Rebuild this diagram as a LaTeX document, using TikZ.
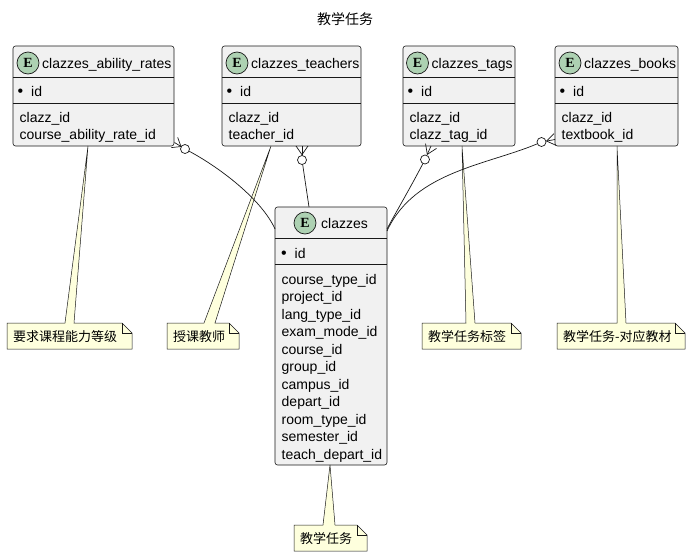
\documentclass[tikz,border=0pt]{standalone}
\usepackage{fontspec}
\setmainfont{Liberation Sans}
\setmonofont{Liberation Mono}
\newfontfamily\cjk{Noto Sans CJK SC}
\newfontfamily\badgefont{Liberation Serif}
\usetikzlibrary{calc}
\definecolor{boxfill}{HTML}{F1F1F1}
\definecolor{linec}{HTML}{181818}
\definecolor{badge}{HTML}{ADD1B2}
\definecolor{notefill}{HTML}{FEFFDD}
\tikzset{
  entbox/.style={draw=linec, fill=boxfill, rounded corners=2.5pt, line width=0.6pt, inner sep=0pt},
  sepline/.style={draw=linec, line width=0.9pt},
  ebadge/.style={circle, draw=linec, fill=badge, line width=0.7pt, minimum size=22pt, inner sep=0pt,
                 font=\badgefont\bfseries\fontsize{14}{14}\selectfont},
  etitle/.style={anchor=base west, inner sep=0pt, font=\fontsize{14}{16}\selectfont},
  efield/.style={anchor=base west, inner sep=0pt, font=\fontsize{14}{16}\selectfont},
  ebullet/.style={anchor=base, inner sep=0pt, font=\fontsize{16}{16}\selectfont},
  noteline/.style={draw=linec, fill=notefill, line width=0.5pt, line join=miter},
  notetext/.style={anchor=base west, inner sep=0pt, font=\cjk\fontsize{13}{15}\selectfont},
  rel/.style={draw=linec, line width=0.7pt},
  crowf/.style={draw=linec, line width=0.7pt},
  zeroc/.style={circle, draw=linec, fill=white, line width=0.7pt, minimum size=9pt, inner sep=0pt},
}
% x1 y1 x2 y2 wedge-a wedge-b tip
\newcommand\drawnote[7]{%
  \draw[noteline] (#1,#2) -- (#5,#2) -- (#7) -- (#6,#2) -- (#3-10,#2) -- (#3,#2+10) -- (#3,#4) -- (#1,#4) -- cycle;
  \draw[noteline, fill=none] (#3-10,#2) -- (#3-10,#2+10) -- (#3,#2+10);}
% E (entity end) C (circle centre)
\newcommand\crowfoot[2]{%
  \coordinate (#1v) at ($(#1)!0.62!(#2)$);
  \draw[crowf] ($(#1)!6pt!90:(#2)$) -- (#1v) -- ($(#1)!6pt!-90:(#2)$);
  \draw[crowf] (#1) -- (#1v);}
\begin{document}
\begin{tikzpicture}[x=1pt,y=-1pt]
\useasboundingbox (0,0) rectangle (691,557);
\fill[white] (0,0) rectangle (691,557);

\node[font=\cjk\fontsize{14}{16}\selectfont, inner sep=0pt] (title) at (345,19) {教学任务};

% ---------- entities ----------
% clazzes_ability_rates
\node[entbox, minimum width=161pt, minimum height=100pt] (ar) at (93.5,96) {};
\draw[sepline] (13,77) -- (174,77);
\draw[sepline] (13,103) -- (174,103);
\node[ebadge] (arb) at (28,63) {E};
\node[etitle] (art) at (42,68) {clazzes\_ability\_rates};
\node[ebullet] (arbul) at (20.5,96.5) {•};
\node[efield] (ar0) at (31,96) {id};
\node[efield] (ar1) at (19.5,122) {clazz\_id};
\node[efield] (ar2) at (19.5,139.4) {course\_ability\_rate\_id};

% clazzes_teachers
\node[entbox, minimum width=139pt, minimum height=100pt] (te) at (291.5,96) {};
\draw[sepline] (222,77) -- (361,77);
\draw[sepline] (222,103) -- (361,103);
\node[ebadge] (teb) at (237,63) {E};
\node[etitle] (tet) at (251,68) {clazzes\_teachers};
\node[ebullet] (tebul) at (229.5,96.5) {•};
\node[efield] (te0) at (240,96) {id};
\node[efield] (te1) at (228.5,122) {clazz\_id};
\node[efield] (te2) at (228.5,139.4) {teacher\_id};

% clazzes_tags
\node[entbox, minimum width=112pt, minimum height=100pt] (tg) at (459,96) {};
\draw[sepline] (403,77) -- (515,77);
\draw[sepline] (403,103) -- (515,103);
\node[ebadge] (tgb) at (417.5,63) {E};
\node[etitle] (tgt) at (431.5,68) {clazzes\_tags};
\node[ebullet] (tgbul) at (410.5,96.5) {•};
\node[efield] (tg0) at (421,96) {id};
\node[efield] (tg1) at (409.5,122) {clazz\_id};
\node[efield] (tg2) at (409.5,139.4) {clazz\_tag\_id};

% clazzes_books
\node[entbox, minimum width=123pt, minimum height=100pt] (bk) at (616.5,96) {};
\draw[sepline] (555,77) -- (678,77);
\draw[sepline] (555,103) -- (678,103);
\node[ebadge] (bkb) at (570,63) {E};
\node[etitle] (bkt) at (584,68) {clazzes\_books};
\node[ebullet] (bkbul) at (562.5,96.5) {•};
\node[efield] (bk0) at (573,96) {id};
\node[efield] (bk1) at (561.5,122) {clazz\_id};
\node[efield] (bk2) at (561.5,139.4) {textbook\_id};

% clazzes
\node[entbox, minimum width=112pt, minimum height=258pt] (cl) at (331,336) {};
\draw[sepline] (275,238) -- (387,238);
\draw[sepline] (275,264) -- (387,264);
\node[ebadge] (clb) at (305,223) {E};
\node[etitle] (clt) at (321,228) {clazzes};
\node[ebullet] (clbul) at (284,258.5) {•};
\node[efield] (cl0) at (294.5,258) {id};
\foreach \t [count=\i from 0] in {course\_type\_id, project\_id, lang\_type\_id, exam\_mode\_id,
    course\_id, group\_id, campus\_id, depart\_id, room\_type\_id, semester\_id, teach\_depart\_id}
  \node[efield] (clf\i) at (281.5,284+17.5*\i) {\t};

% ---------- notes ----------
\coordinate (tip1) at (88,146);
\coordinate (tip2) at (271,146);
\coordinate (tip3) at (462,146);
\coordinate (tip4) at (617,146);
\coordinate (tip5) at (330,465);
\drawnote{7}{323}{132}{349}{65}{74}{tip1}
\node[notetext] (n1) at (13,341) {要求课程能力等级};
\drawnote{167}{323}{239}{349}{204}{215}{tip2}
\node[notetext] (n2) at (173,341) {授课教师};
\drawnote{422}{323}{521}{349}{466}{475}{tip3}
\node[notetext] (n3) at (428,341) {教学任务标签};
\drawnote{557}{323}{685}{349}{617}{626}{tip4}
\node[notetext] (n4) at (563,341) {教学任务-对应教材};
\drawnote{294}{525}{367}{551}{323}{335}{tip5}
\node[notetext] (n5) at (300,543) {教学任务};

% ---------- relations ----------
\coordinate (e1) at (174.5,142.5);
\coordinate (c1) at (185,149);
\coordinate (e2) at (302,146);
\coordinate (c2) at (302,160);
\coordinate (e3) at (431,146);
\coordinate (c3) at (425,159.5);
\coordinate (e4) at (555,139.5);
\coordinate (c4) at (541.5,142);
\coordinate (k1) at (275,229);
\coordinate (k2) at (309,207);
\coordinate (k3) at (387,229);
\coordinate (k4) at (387,231);

\draw[rel] (c1) .. controls (220,167) and (262,200) .. (k1);
\draw[rel] (c2) -- (k2);
\draw[rel] (c3) .. controls (412,185) and (396,212) .. (k3);
\draw[rel] (c4) .. controls (490,165) and (415,170) .. (k4);

\crowfoot{e1}{c1}
\crowfoot{e2}{c2}
\crowfoot{e3}{c3}
\crowfoot{e4}{c4}
\node[zeroc] (z1) at (c1) {};
\node[zeroc] (z2) at (c2) {};
\node[zeroc] (z3) at (c3) {};
\node[zeroc] (z4) at (c4) {};
\end{tikzpicture}
\end{document}
